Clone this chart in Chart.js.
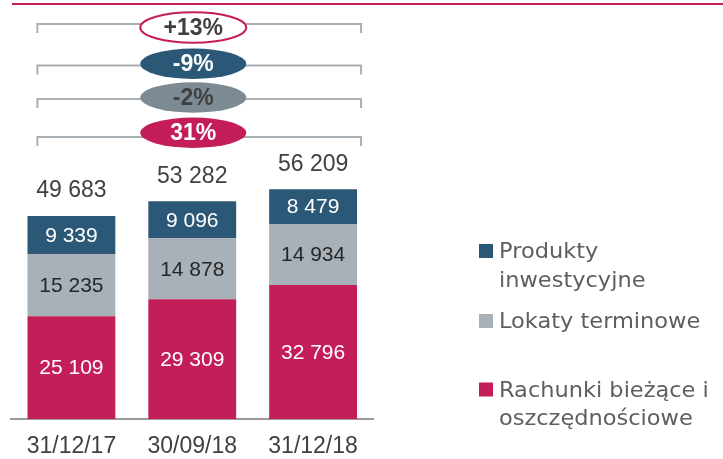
<!DOCTYPE html>
<html><head><meta charset="utf-8">
<script src="https://cdn.jsdelivr.net/npm/chart.js@4/dist/chart.umd.min.js"></script>
<style>html,body{margin:0;padding:0;background:#fff;overflow:hidden}#wrap{position:relative;width:723px;height:459px}</style>
</head><body><div id="wrap"><canvas id="c" width="723" height="459"></canvas></div>
<script>
// ---- data ----
const categories = ['31/12/17', '30/09/18', '31/12/18'];
const currentAccounts = [25109, 29309, 32796];
const termDeposits = [15235, 14878, 14934];
const investmentProducts = [9339, 9096, 8479];
const totals = [49683, 53282, 56209];
const seriesNames = [['Rachunki bieżące i', 'oszczędnościowe'], ['Lokaty terminowe'], ['Produkty', 'inwestycyjne']];
const changeLabels = ['+13%', '-9%', '-2%', '31%'];

// ---- styles ----
const PINK = '#C41E5A', GREY = '#A8B0B8', BLUE = '#2C5877', DARKGREY = '#7C8A93';
const fmt = v => String(v).replace(/\B(?=(\d{3})+(?!\d))/g, ' ');

const labelPlugin = {
  id: 'segLabels',
  afterDatasetsDraw(chart) {
    const ctx = chart.ctx;
    ctx.save();
    ctx.textAlign = 'center';
    ctx.textBaseline = 'middle';
    ctx.font = '21px "Liberation Sans", Arial, sans-serif';
    const colors = ['#ffffff', '#262626', '#ffffff'];
    chart.data.datasets.forEach((ds, di) => {
      const meta = chart.getDatasetMeta(di);
      meta.data.forEach((el, i) => {
        ctx.fillStyle = colors[di];
        ctx.fillText(fmt(ds.data[i]), el.x, (el.y + el.base) / 2 + 1);
      });
    });
    const top = chart.getDatasetMeta(2);
    ctx.font = '23px "Liberation Sans", Arial, sans-serif';
    ctx.fillStyle = '#404040';
    top.data.forEach((el, i) => {
      ctx.fillText(fmt(totals[i]), el.x, el.y - 25);
    });
    ctx.restore();
  }
};

const decorPlugin = {
  id: 'decor',
  afterDraw(chart) {
    const ctx = chart.ctx;
    const xs = chart.scales.x;
    ctx.save();
    // top rule
    ctx.strokeStyle = PINK; ctx.lineWidth = 2;
    ctx.beginPath(); ctx.moveTo(12, 4); ctx.lineTo(723, 4); ctx.stroke();
    // brackets
    const left = xs.getPixelForValue(0) - 34, right = xs.getPixelForValue(2) + 48;
    const cx = xs.getPixelForValue(1) + 1;
    const lineYs = [24, 65.5, 99, 137];
    const ellYs = [27.5, 63.7, 97.5, 132.8];
    const fills = ['#ffffff', BLUE, DARKGREY, PINK];
    const strokes = [PINK, null, null, null];
    const txtCol = ['#404040', '#ffffff', '#404040', '#ffffff'];
    ctx.strokeStyle = '#A9B0B5'; ctx.lineWidth = 2;
    lineYs.forEach(y => {
      ctx.beginPath();
      ctx.moveTo(left, y + 9); ctx.lineTo(left, y); ctx.lineTo(right, y); ctx.lineTo(right, y + 9);
      ctx.stroke();
    });
    ctx.textAlign = 'center'; ctx.textBaseline = 'middle';
    ctx.font = 'bold 23px "Liberation Sans", Arial, sans-serif';
    changeLabels.forEach((t, i) => {
      ctx.beginPath();
      ctx.ellipse(cx, ellYs[i], 53, 15.2, 0, 0, Math.PI * 2);
      ctx.fillStyle = fills[i]; ctx.fill();
      if (strokes[i]) { ctx.strokeStyle = strokes[i]; ctx.lineWidth = 2; ctx.stroke(); }
      ctx.fillStyle = txtCol[i];
      ctx.fillText(t, cx, ellYs[i] + 1);
    });
    // legend
    const items = [
      {c: BLUE, box: 244, lines: seriesNames[2], base: [257.5, 286.5]},
      {c: GREY, box: 314, lines: seriesNames[1], base: [328]},
      {c: PINK, box: 382.5, lines: seriesNames[0], base: [396.5, 424.5]}
    ];
    ctx.textAlign = 'left'; ctx.textBaseline = 'alphabetic';
    ctx.font = '21px "DejaVu Sans", sans-serif';
    items.forEach(it => {
      ctx.fillStyle = it.c; ctx.fillRect(479, it.box, 14, 14);
      ctx.fillStyle = '#5f5f5f';
      it.lines.forEach((l, k) => {
        ctx.save(); ctx.translate(499, it.base[k]); ctx.scale(1.07, 1);
        ctx.fillText(l, 0, 0); ctx.restore();
      });
    });
    ctx.restore();
  }
};

new Chart(document.getElementById('c'), {
  type: 'bar',
  data: {
    labels: categories,
    datasets: [
      {label: seriesNames[0].join(' '), data: currentAccounts, backgroundColor: PINK},
      {label: seriesNames[1].join(' '), data: termDeposits, backgroundColor: GREY},
      {label: seriesNames[2].join(' '), data: investmentProducts, backgroundColor: BLUE}
    ]
  },
  options: {
    responsive: false,
    animation: false,
    devicePixelRatio: 1,
    layout: {padding: {left: 11, right: 349.5, top: 0, bottom: 0}},
    datasets: {bar: {barPercentage: 1, categoryPercentage: 0.727, borderWidth: 0}},
    plugins: {legend: {display: false}, tooltip: {enabled: false}},
    scales: {
      x: {
        stacked: true,
        grid: {display: false},
        border: {display: true, color: '#9a9a9a', width: 2},
        ticks: {color: '#404040', font: {family: '"Liberation Sans", Arial, sans-serif', size: 23}, padding: 6},
        afterFit: s => { s.height = 40; }
      },
      y: {stacked: true, display: false, min: 0, max: 102500}
    }
  },
  plugins: [labelPlugin, decorPlugin]
});
</script>
</body></html>
